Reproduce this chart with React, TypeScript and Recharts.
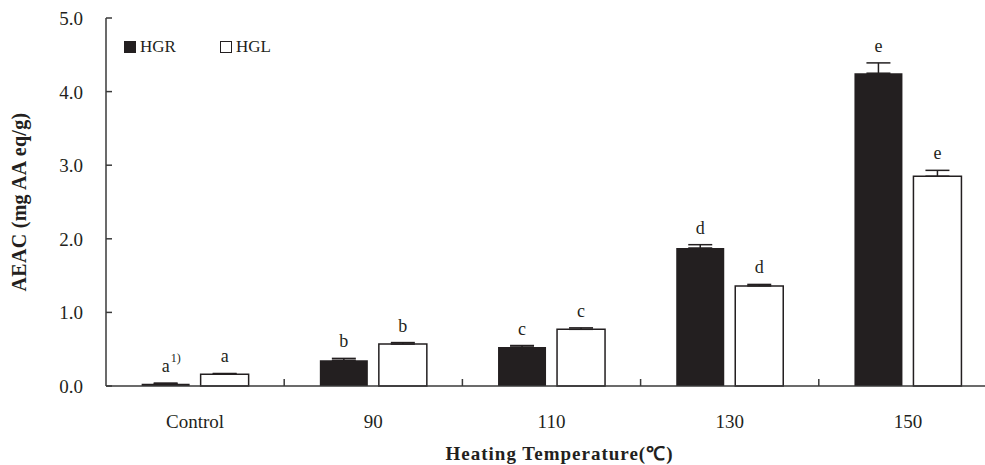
import React from 'react';
import { BarChart, Bar, XAxis, YAxis, ErrorBar, LabelList, Legend } from 'recharts';

const categories = ['Control', '90', '110', '130', '150'];
const hgrValues = [0.03, 0.35, 0.53, 1.875, 4.25];
const hglValues = [0.16, 0.57, 0.77, 1.36, 2.85];
const hgrErrors = [0.01, 0.025, 0.02, 0.045, 0.14];
const hglErrors = [0.01, 0.02, 0.02, 0.02, 0.08];
const hgrLetters = ['a', 'b', 'c', 'd', 'e'];
const hglLetters = ['a', 'b', 'c', 'd', 'e'];
const yTicks = [0, 1, 2, 3, 4, 5];

const data = categories.map((c, i) => ({
  name: c,
  HGR: hgrValues[i],
  HGL: hglValues[i],
  errR: [0, hgrErrors[i]],
  errL: [0, hglErrors[i]],
}));

const FONT = '"Liberation Serif", "Times New Roman", serif';
const INK = '#231f20';
const AXIS = '#3a3a3a';

const CHART_W = 1010;
const CHART_H = 465;
const MARGIN = { top: 18, right: 13, bottom: 0, left: 6 };
const YAXIS_W = 100;
const XAXIS_H = 79;
const PLOT_W = CHART_W - MARGIN.left - MARGIN.right - YAXIS_W;
const BAND = PLOT_W / categories.length;

const makeLabel = (letters: string[], errs: number[], withSup: boolean) => (props: any) => {
  const vb = props.viewBox || props;
  const x = Number(vb.x ?? props.x);
  const y = Number(vb.y ?? props.y);
  const w = Number(vb.width ?? props.width);
  const rawH = Number(vb.height ?? props.height);
  const h = Math.abs(rawH);
  const idx = props.index;
  const val = Number(props.value);
  const ppu = val ? h / val : 0;
  const top = Math.min(y, y + rawH);
  const capY = top - errs[idx] * ppu;
  const cx = x + w / 2;
  return (
    <g>
      <text x={cx} y={capY - 11} textAnchor="middle" fontFamily={FONT} fontSize={18} fill={INK}>
        {letters[idx]}
      </text>
      {withSup && idx === 0 ? (
        <text x={cx + 5} y={capY - 21} fontFamily={FONT} fontSize={12} fill={INK}>
          1)
        </text>
      ) : null}
    </g>
  );
};

const XTick = (props: any) => {
  const { x, y, payload, index } = props;
  return (
    <g>
      <text x={x} y={y + 42} textAnchor="middle" fontFamily={FONT} fontSize={19} fill={INK}>
        {payload.value}
      </text>
      {index < categories.length - 1 ? (
        <line x1={x + BAND / 2} x2={x + BAND / 2} y1={y} y2={y - 7} stroke={AXIS} strokeWidth={1.5} />
      ) : null}
    </g>
  );
};

const YTick = (props: any) => {
  const { x, y, payload } = props;
  return (
    <g>
      <line x1={x} x2={x + 6} y1={y} y2={y} stroke={AXIS} strokeWidth={1.5} />
      <text x={x - 23} y={y + 7} textAnchor="end" fontFamily={FONT} fontSize={19} fill={INK}>
        {Number(payload.value).toFixed(1)}
      </text>
    </g>
  );
};

const LegendContent = () => (
  <div style={{ display: 'flex', alignItems: 'center', fontFamily: FONT, fontSize: 17, color: INK, lineHeight: '18px' }}>
    <span style={{ display: 'inline-block', width: 12, height: 12, background: INK, marginRight: 4 }} />
    <span style={{ marginRight: 44 }}>HGR</span>
    <span style={{ display: 'inline-block', width: 10, height: 10, background: '#fff', border: `1.2px solid ${INK}`, marginRight: 4 }} />
    <span>HGL</span>
  </div>
);

export default function App() {
  return (
    <div style={{ position: 'absolute', left: 0, top: 0, width: 985, height: 465, overflow: 'hidden', background: '#fff' }}>
      <BarChart
        width={CHART_W}
        height={CHART_H}
        data={data}
        margin={MARGIN}
        barCategoryGap="20%"
        barGap={11}
      >
        <XAxis
          dataKey="name"
          height={XAXIS_H}
          tickLine={false}
          tickSize={0}
          tickMargin={0}
          axisLine={{ stroke: AXIS, strokeWidth: 1.5 }}
          tick={<XTick />}
          interval={0}
          label={(p: any) => {
            const vb = p.viewBox;
            return (
              <text
                x={vb.x + vb.width / 2 + 8}
                y={vb.y + vb.height - 5}
                textAnchor="middle"
                fontFamily={FONT}
                fontWeight="bold"
                fontSize={19}
                letterSpacing={1}
                fill={INK}
              >
                Heating Temperature(℃)
              </text>
            );
          }}
        />
        <XAxis xAxisId="top" orientation="top" height={0} tick={false} tickLine={false} axisLine={{ stroke: AXIS, strokeWidth: 1.5 }} />
        <YAxis
          width={YAXIS_W}
          domain={[0, 5]}
          ticks={yTicks}
          tickLine={false}
          tickSize={0}
          tickMargin={0}
          axisLine={{ stroke: AXIS, strokeWidth: 1.5 }}
          tick={<YTick />}
          label={(p: any) => {
            const vb = p.viewBox;
            const cy = vb.y + vb.height / 2;
            return (
              <text
                x={26}
                y={cy}
                transform={`rotate(-90, 26, ${cy})`}
                textAnchor="middle"
                fontFamily={FONT}
                fontWeight="bold"
                fontSize={20}
                letterSpacing={0.3}
                fill={INK}
              >
                AEAC (mg AA eq/g)
              </text>
            );
          }}
        />
        <Legend
          layout="horizontal"
          verticalAlign="middle"
          align="center"
          content={<LegendContent />}
          wrapperStyle={{ left: 124, top: 38, width: 'auto', height: 'auto' }}
        />
        <Bar dataKey="HGR" fill={INK} isAnimationActive={false}>
          <ErrorBar dataKey="errR" width={12} stroke={INK} strokeWidth={1.5} direction="y" />
          <LabelList dataKey="HGR" content={makeLabel(hgrLetters, hgrErrors, true)} />
        </Bar>
        <Bar dataKey="HGL" fill="#ffffff" stroke={INK} strokeWidth={1.5} isAnimationActive={false}>
          <ErrorBar dataKey="errL" width={12} stroke={INK} strokeWidth={1.5} direction="y" />
          <LabelList dataKey="HGL" content={makeLabel(hglLetters, hglErrors, false)} />
        </Bar>
      </BarChart>
    </div>
  );
}
